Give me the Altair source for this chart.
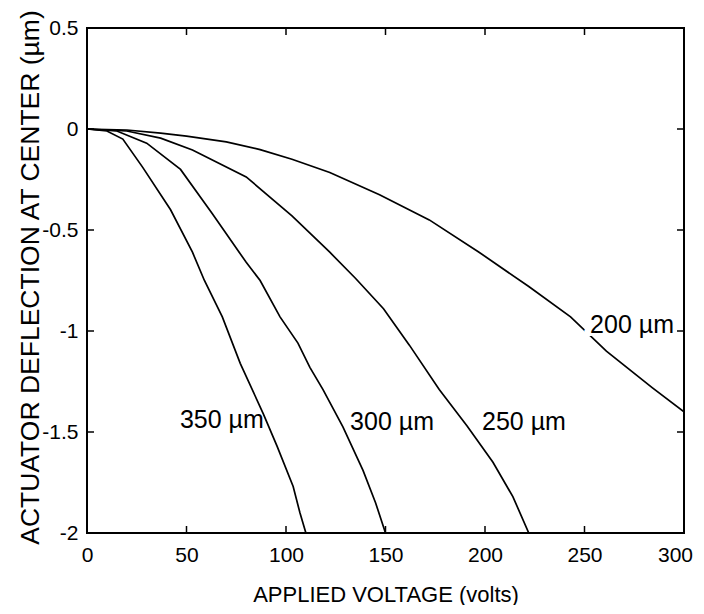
import altair as alt
import pandas as pd

# ---- data ----
v200 = [0, 20, 37, 50, 70, 87, 103, 122, 147, 172, 197, 222, 243, 261, 284, 300]
d200 = [0, -0.005, -0.02, -0.035, -0.064, -0.102, -0.150, -0.215, -0.325, -0.45, -0.61, -0.78, -0.93, -1.10, -1.28, -1.40]

v250 = [0, 20, 37, 53, 80, 103, 122, 135, 149, 162, 177, 191, 204, 214, 222]
d250 = [0, -0.01, -0.045, -0.104, -0.237, -0.43, -0.61, -0.74, -0.89, -1.07, -1.29, -1.47, -1.65, -1.82, -2.0]

v300 = [0, 15, 30, 47, 63, 80, 87, 97, 106, 112, 118.6, 128.6, 138.7, 145, 150]
d300 = [0, -0.01, -0.07, -0.20, -0.42, -0.66, -0.75, -0.93, -1.06, -1.18, -1.29, -1.475, -1.69, -1.85, -2.0]

v350 = [0, 10, 18, 28, 42, 53, 59, 68, 77, 88.6, 95.5, 103.6, 107, 110]
d350 = [0, -0.01, -0.05, -0.19, -0.40, -0.61, -0.75, -0.93, -1.16, -1.41, -1.57, -1.77, -1.90, -2.0]

series_names = ["200 µm", "250 µm", "300 µm", "350 µm"]
label_v = [252.8, 198.5, 132.2, 46.7]
label_d = [-0.97, -1.45, -1.45, -1.44]

x_ticks = [0, 50, 100, 150, 200, 250, 300]
y_ticks = [-2, -1.5, -1, -0.5, 0, 0.5]
x_inner_ticks = [50, 100, 150, 200, 250]
y_inner_ticks = [-1.5, -1, -0.5, 0]

# ---- tables ----
rows = []
for name, vs, ds in zip(series_names, [v200, v250, v300, v350], [d200, d250, d300, d350]):
    for v, d in zip(vs, ds):
        rows.append({"series": name, "V": v, "D": d})
df = pd.DataFrame(rows)
labels = pd.DataFrame({"V": label_v, "D": label_d, "text": series_names})
xt = pd.DataFrame({"V": x_inner_ticks})
yt = pd.DataFrame({"D": y_inner_ticks})

W, H = 597, 505
TL = 7
FONT = "Liberation Sans"

xs = alt.Scale(domain=[0, 300], nice=False, zero=False)
ys = alt.Scale(domain=[-2, 0.5], nice=False, zero=False)

x_axis = alt.Axis(
    title="APPLIED VOLTAGE (volts)", values=x_ticks, format="d",
    ticks=False, domain=False, grid=False, labelPadding=11,
    labelOffset={"condition": {"test": "datum.value == 300", "value": -9}, "value": 0},
    labelFont=FONT, labelFontSize=21, labelColor="black", labelFlush=False,
    labelOverlap=False, titleFont=FONT, titleFontSize=22, titleFontWeight="normal",
    titleColor="black", titleY=68, titleBaseline="alphabetic",
)
y_axis = alt.Axis(
    title="ACTUATOR DEFLECTION AT CENTER (µm)", values=y_ticks,
    labelExpr="toString(datum.value)",
    ticks=False, domain=False, grid=False, labelPadding=9,
    labelFont=FONT, labelFontSize=21, labelColor="black", labelFlush=False,
    labelOverlap=False, titleFont=FONT, titleFontSize=26.5, titleFontWeight="normal",
    titleColor="black", titleX=-49, titleY=249, titleBaseline="alphabetic",
    titleAngle=-90,
)

X = alt.X("V:Q", scale=xs, axis=x_axis)
Y = alt.Y("D:Q", scale=ys, axis=y_axis)

lines = alt.Chart(df).mark_line(color="black", strokeWidth=1.7, clip=True).encode(
    x=X, y=Y, detail="series:N",
)

bottom_ticks = alt.Chart(xt).mark_rule(color="black", strokeWidth=1.5).encode(
    x=X, y=alt.value(H), y2=alt.value(H - TL))
top_ticks = alt.Chart(xt).mark_rule(color="black", strokeWidth=1.5).encode(
    x=X, y=alt.value(0), y2=alt.value(TL))
left_ticks = alt.Chart(yt).mark_rule(color="black", strokeWidth=1.5).encode(
    y=Y, x=alt.value(0), x2=alt.value(TL))
right_ticks = alt.Chart(yt).mark_rule(color="black", strokeWidth=1.5).encode(
    y=Y, x=alt.value(W), x2=alt.value(W - TL))

halo = alt.Chart(labels).transform_filter(alt.datum.text == "200 µm").mark_text(
    align="left", baseline="middle", font=FONT, fontSize=25,
    stroke="white", strokeWidth=6, fill="white", dx=-4,
).encode(x=X, y=Y, text="text:N")

texts = alt.Chart(labels).mark_text(
    align="left", baseline="middle", font=FONT, fontSize=25, color="black",
).encode(x=X, y=Y, text="text:N")

chart = alt.layer(lines, bottom_ticks, top_ticks, left_ticks, right_ticks, halo, texts).properties(
    width=W, height=H,
    background="white",
    autosize=alt.AutoSizeParams(type="none"),
    padding={"left": 79, "top": 20, "right": 12, "bottom": 72},
).configure_view(stroke="black", strokeWidth=2)

chart.save("out.html", embed_options={"renderer": "svg", "actions": False})
